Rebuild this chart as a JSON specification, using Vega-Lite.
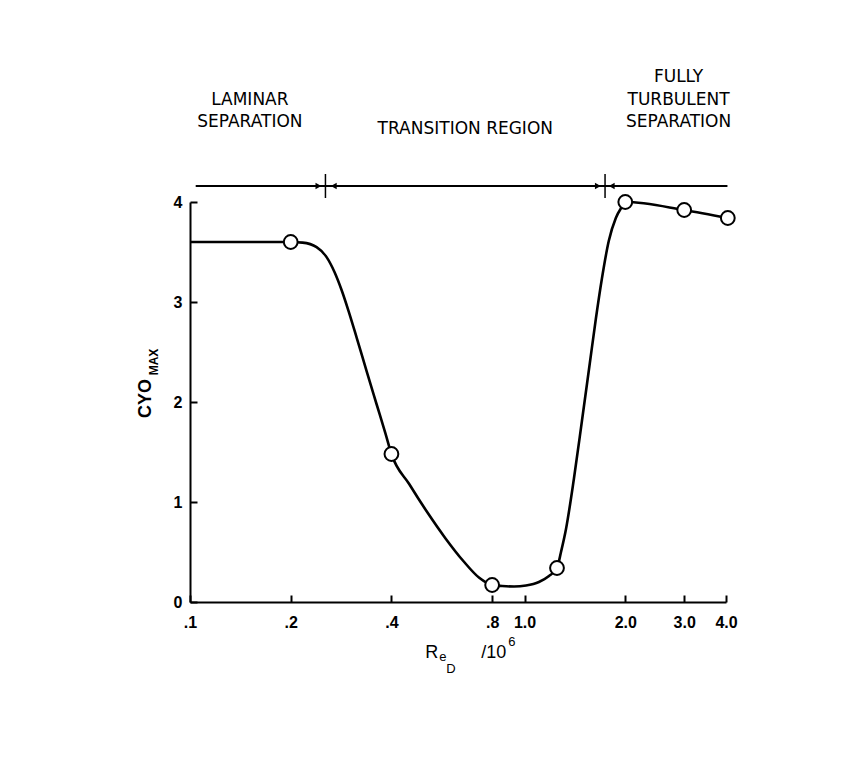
{
  "$schema": "https://vega.github.io/schema/vega-lite/v6.json",
  "width": 536,
  "height": 400,
  "autosize": {"type": "none"},
  "padding": {"left": 190, "top": 202, "right": 142, "bottom": 157},
  "background": "white",
  "config": {"view": {"stroke": null}, "font": "Liberation Sans"},
  "datasets": {
    "curve": [
      {"x": 0.1, "y": 3.6}, {"x": 0.2, "y": 3.6}, {"x": 0.217, "y": 3.594}, {"x": 0.239, "y": 3.549},
      {"x": 0.256, "y": 3.449}, {"x": 0.2705, "y": 3.298}, {"x": 0.284, "y": 3.118}, {"x": 0.298, "y": 2.907},
      {"x": 0.315, "y": 2.642}, {"x": 0.337, "y": 2.311}, {"x": 0.361, "y": 1.98}, {"x": 0.384, "y": 1.684},
      {"x": 0.4, "y": 1.48}, {"x": 0.4525, "y": 1.177}, {"x": 0.512, "y": 0.897}, {"x": 0.579, "y": 0.641},
      {"x": 0.656, "y": 0.41}, {"x": 0.732, "y": 0.242}, {"x": 0.8, "y": 0.17}, {"x": 0.857, "y": 0.16},
      {"x": 0.93, "y": 0.155}, {"x": 1.01, "y": 0.165}, {"x": 1.104, "y": 0.2}, {"x": 1.183, "y": 0.26},
      {"x": 1.25, "y": 0.34}, {"x": 1.285, "y": 0.5}, {"x": 1.33, "y": 0.73}, {"x": 1.404, "y": 1.23},
      {"x": 1.484, "y": 1.81}, {"x": 1.567, "y": 2.39}, {"x": 1.633, "y": 2.83}, {"x": 1.702, "y": 3.23},
      {"x": 1.785, "y": 3.61}, {"x": 1.874, "y": 3.84}, {"x": 1.952, "y": 3.95}, {"x": 2.0, "y": 4.0},
      {"x": 3.0, "y": 3.92}, {"x": 4.05, "y": 3.84}
    ],
    "pts": [
      {"x": 0.2, "y": 3.6}, {"x": 0.4, "y": 1.48}, {"x": 0.8, "y": 0.17}, {"x": 1.25, "y": 0.34},
      {"x": 2.0, "y": 4.0}, {"x": 3.0, "y": 3.92}, {"x": 4.05, "y": 3.84}
    ],
    "arrow": [{"x": 0.104, "x2": 4.04, "y": 4.16}],
    "divs": [{"x": 0.254, "y": 4.04, "y2": 4.28}, {"x": 1.74, "y": 4.04, "y2": 4.28}],
    "heads": [
      {"x": 0.242, "y": 4.16, "dir": "right"}, {"x": 0.269, "y": 4.16, "dir": "left"},
      {"x": 1.656, "y": 4.16, "dir": "right"}, {"x": 1.822, "y": 4.16, "dir": "left"}
    ],
    "notes": [
      {"label": "LAMINAR", "x": 0.151, "y": 5.02},
      {"label": "SEPARATION", "x": 0.151, "y": 4.8},
      {"label": "TRANSITION REGION", "x": 0.665, "y": 4.73},
      {"label": "FULLY", "x": 2.886, "y": 5.25},
      {"label": "TURBULENT", "x": 2.886, "y": 5.02},
      {"label": "SEPARATION", "x": 2.886, "y": 4.8}
    ],
    "ybig": [{"label": "CYO", "x": 0.0739, "y": 2.035}],
    "ysmall": [{"label": "MAX", "x": 0.0781, "y": 2.4}],
    "xbig": [{"label": "R", "x": 0.505, "y": -0.511}, {"label": "/10", "x": 0.742, "y": -0.511}],
    "xsmall": [{"label": "e", "x": 0.556, "y": -0.551}, {"label": "D", "x": 0.583, "y": -0.672}, {"label": "6", "x": 0.893, "y": -0.401}]
  },
  "encoding": {
    "x": {
      "field": "x", "type": "quantitative",
      "scale": {"type": "log", "domain": [0.1, 4], "nice": false},
      "axis": {
        "values": [0.1, 0.2, 0.4, 0.8, 1, 2, 3, 4],
        "labelExpr": "datum.value < 1 ? replace(format(datum.value, '.1f'), '0.', '.') : format(datum.value, '.1f')",
        "title": null, "grid": false, "tickSize": -7, "labelPadding": 19,
        "domainColor": "black", "domainWidth": 2, "tickColor": "black", "tickWidth": 2,
        "labelFont": "Liberation Sans", "labelFontSize": 16, "labelFontWeight": "bold",
        "labelColor": "black", "labelFlush": false, "labelOverlap": false
      }
    },
    "y": {
      "field": "y", "type": "quantitative",
      "scale": {"domain": [0, 4], "nice": false, "zero": false},
      "axis": {
        "values": [0, 1, 2, 3, 4], "format": "d",
        "title": null, "grid": false, "tickSize": -7, "labelPadding": 15,
        "domainColor": "black", "domainWidth": 2, "tickColor": "black", "tickWidth": 2,
        "labelFont": "Liberation Sans", "labelFontSize": 16, "labelFontWeight": "bold",
        "labelColor": "black", "labelOverlap": false
      }
    }
  },
  "layer": [
    {
      "data": {"name": "curve"},
      "mark": {"type": "line", "interpolate": "monotone", "color": "black", "strokeWidth": 2.6}
    },
    {
      "data": {"name": "pts"},
      "mark": {"type": "point", "shape": "circle", "filled": true, "fill": "white", "stroke": "black", "strokeWidth": 2, "size": 190, "opacity": 1}
    },
    {
      "data": {"name": "arrow"},
      "mark": {"type": "rule", "color": "black", "strokeWidth": 1.8},
      "encoding": {"x2": {"field": "x2"}}
    },
    {
      "data": {"name": "divs"},
      "mark": {"type": "rule", "color": "black", "strokeWidth": 1.5},
      "encoding": {"y2": {"field": "y2"}}
    },
    {
      "data": {"name": "heads"},
      "mark": {"type": "point", "filled": true, "color": "black", "size": 45, "opacity": 1},
      "encoding": {
        "shape": {"field": "dir", "type": "nominal", "scale": {"domain": ["right", "left"], "range": ["triangle-right", "triangle-left"]}, "legend": null}
      }
    },
    {
      "data": {"name": "notes"},
      "mark": {"type": "text", "font": "DejaVu Sans", "fontSize": 17, "color": "black", "align": "center", "baseline": "middle"},
      "encoding": {"text": {"field": "label"}}
    },
    {
      "data": {"name": "ybig"},
      "mark": {"type": "text", "font": "Liberation Sans", "fontSize": 18, "fontWeight": "bold", "color": "black", "align": "center", "baseline": "middle", "angle": 270},
      "encoding": {"text": {"field": "label"}}
    },
    {
      "data": {"name": "ysmall"},
      "mark": {"type": "text", "font": "Liberation Sans", "fontSize": 12, "fontWeight": "bold", "color": "black", "align": "center", "baseline": "middle", "angle": 270},
      "encoding": {"text": {"field": "label"}}
    },
    {
      "data": {"name": "xbig"},
      "mark": {"type": "text", "font": "Liberation Sans", "fontSize": 18, "color": "black", "align": "left", "baseline": "middle"},
      "encoding": {"text": {"field": "label"}}
    },
    {
      "data": {"name": "xsmall"},
      "mark": {"type": "text", "font": "Liberation Sans", "fontSize": 13, "color": "black", "align": "left", "baseline": "middle"},
      "encoding": {"text": {"field": "label"}}
    }
  ]
}
